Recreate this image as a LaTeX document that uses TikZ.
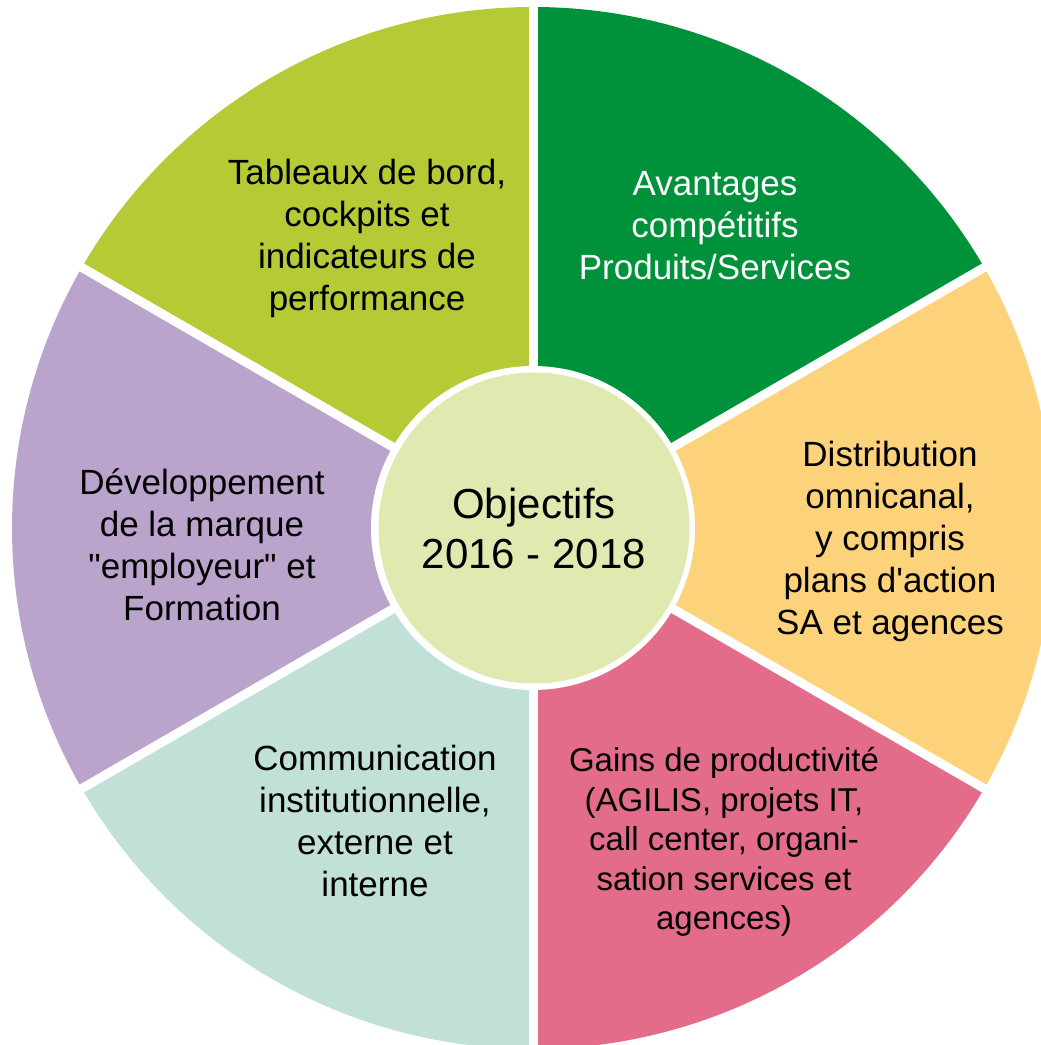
\documentclass[tikz,border=0pt]{standalone}
\usepackage{fontspec}
\setmainfont{Liberation Sans}[Ligatures=TeXOff]
\definecolor{limeC}{HTML}{B5CA34}
\definecolor{greenC}{HTML}{00923A}
\definecolor{orangeC}{HTML}{FCD27A}
\definecolor{pinkC}{HTML}{E36C8A}
\definecolor{tealC}{HTML}{C0E0D8}
\definecolor{lavC}{HTML}{BAA4CC}
\definecolor{centerC}{HTML}{E0E9B0}
\begin{document}
\begin{tikzpicture}[x=1pt,y=1pt,
  seglabel/.style={align=center, inner sep=0pt, font=\fontsize{35}{42}\selectfont},
  gap/.style={white, line width=9pt}]
\useasboundingbox (0,0) rectangle (1041,1045);
\clip (0,0) rectangle (1041,1045);
\coordinate (C) at (533,517);
\def\R{521}
% sectors
\fill[greenC]  (C) -- ++(30:\R)  arc[start angle=30,  end angle=90,  radius=\R] -- cycle;
\fill[limeC]   (C) -- ++(90:\R)  arc[start angle=90,  end angle=150, radius=\R] -- cycle;
\fill[lavC]    (C) -- ++(150:\R) arc[start angle=150, end angle=210, radius=\R] -- cycle;
\fill[tealC]   (C) -- ++(210:\R) arc[start angle=210, end angle=270, radius=\R] -- cycle;
\fill[pinkC]   (C) -- ++(270:\R) arc[start angle=270, end angle=330, radius=\R] -- cycle;
\fill[orangeC] (C) -- ++(330:\R) arc[start angle=330, end angle=390, radius=\R] -- cycle;
% gaps
\foreach \a in {30,90,150,210,270,330}
  \draw[gap] (C) -- ++(\a:\R+20);
% centre
\node[circle, minimum size=324pt, fill=white, inner sep=0pt] (ring) at (C) {};
\node[circle, minimum size=311pt, fill=centerC, inner sep=0pt, align=center,
      font=\fontsize{42}{50}\selectfont] (ctr) at (534,517) {Objectifs\\2016 - 2018};
% labels
\node[seglabel] (tab) at (367,807) {Tableaux de bord,\\cockpits et\\indicateurs de\\performance};
\node[seglabel, text=white] (ava) at (715,819) {Avantages\\compétitifs\\Produits/Services};
\node[seglabel] (dis) at (890,504) {Distribution\\omnicanal,\\y compris\\plans d'action\\SA et agences};
\node[seglabel, font=\fontsize{33}{39.5}\selectfont] (gai) at (724,203) {Gains de productivité\\(AGILIS, projets IT,\\call center, organi-\\sation services et\\agences)};
\node[seglabel] (com) at (375,224) {Communication\\institutionnelle,\\externe et\\interne};
\node[seglabel] (dev) at (202,500) {Développement\\de la marque\\"employeur" et\\Formation};
\end{tikzpicture}
\end{document}
